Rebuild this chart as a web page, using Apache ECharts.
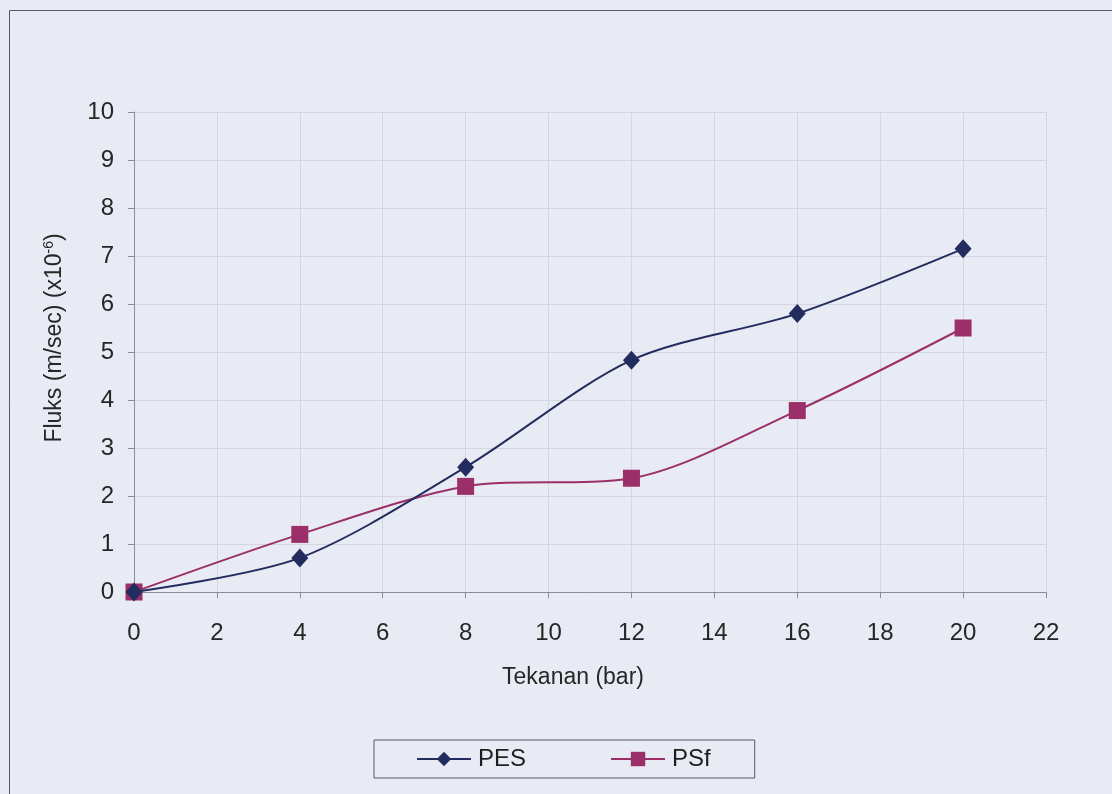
<!DOCTYPE html>
<html>
<head>
<meta charset="utf-8">
<script src="https://cdn.jsdelivr.net/npm/echarts@6/dist/echarts.min.js"></script>
<style>
  html, body { margin: 0; padding: 0; background: #e8ebf3; }
  #chart { width: 1112px; height: 794px; }
</style>
</head>
<body>
<div id="chart"></div>
<script>
// Pressure (bar) on the x axis
const tekanan = [0, 4, 8, 12, 16, 20];
// Flux values (x10^-6 m/sec) for each membrane
const fluksPES = [0, 0.71, 2.6, 4.83, 5.8, 7.15];
const fluksPSf = [0, 1.2, 2.2, 2.37, 3.78, 5.5];
const seriesNames = ['PES', 'PSf'];

const font = 'Liberation Sans, Arial, sans-serif';
const textColor = '#262626';
const axisColor = '#8a8d94';
const gridColor = '#d3d7df';
const pair = (xs, ys) => xs.map((x, i) => [x, ys[i]]);

const chart = echarts.init(document.getElementById('chart'));
chart.setOption({
  backgroundColor: '#e8ebf3',
  animation: false,
  textStyle: { fontFamily: font },
  graphic: [{
    type: 'rect',
    shape: { x: 9.5, y: 10.5, width: 1200, height: 900 },
    style: { fill: 'none', stroke: '#555a66', lineWidth: 1 },
    silent: true
  }],
  grid: { left: 134, right: 66, top: 112, bottom: 202 },
  xAxis: {
    type: 'value',
    min: 0, max: 22, interval: 2,
    name: 'Tekanan (bar)',
    nameLocation: 'middle',
    nameGap: 74,
    nameTextStyle: { fontSize: 23, color: textColor, fontFamily: font, padding: [0, 34, 0, 0] },
    axisLine: { onZero: false, lineStyle: { color: axisColor, width: 1 } },
    axisTick: { show: true, length: 6, lineStyle: { color: axisColor } },
    axisLabel: { fontSize: 24, color: textColor, margin: 29, fontFamily: font },
    splitLine: { show: true, lineStyle: { color: gridColor, width: 1 } }
  },
  yAxis: {
    type: 'value',
    min: 0, max: 10, interval: 1,
    name: '{n|Fluks (m/sec) (x10}{s|-6}{n|)}',
    nameLocation: 'middle',
    nameGap: 66,
    nameRotate: 90,
    nameTextStyle: {
      fontFamily: font,
      padding: [0, 0, 0, 28],
      rich: {
        n: { fontSize: 23, color: textColor, fontFamily: font },
        s: { fontSize: 14, color: textColor, fontFamily: font, padding: [0, 0, 12, 0] }
      }
    },
    axisLine: { show: true, lineStyle: { color: axisColor, width: 1 } },
    axisTick: { show: true, length: 6, lineStyle: { color: axisColor } },
    axisLabel: { fontSize: 24, color: textColor, margin: 20, fontFamily: font },
    splitLine: { show: true, lineStyle: { color: gridColor, width: 1 } }
  },
  legend: {
    left: 374, top: 740,
    padding: [7, 44, 7, 42],
    itemGap: 84,
    itemWidth: 54, itemHeight: 18,
    borderColor: '#55585f', borderWidth: 1,
    textStyle: { fontSize: 24, color: '#1e1e1e', fontFamily: font, padding: [0, 0, 0, 2] },
    data: seriesNames
  },
  series: [
    {
      name: seriesNames[0],
      type: 'line',
      data: pair(tekanan, fluksPES),
      smooth: 0.3,
      symbol: 'diamond',
      symbolSize: [17, 19],
      color: '#232c5e',
      lineStyle: { color: '#232c5e', width: 2 },
      itemStyle: { color: '#232c5e' },
      z: 3
    },
    {
      name: seriesNames[1],
      type: 'line',
      data: pair(tekanan, fluksPSf),
      smooth: 0.3,
      symbol: 'rect',
      symbolSize: 17,
      color: '#9a2f6a',
      lineStyle: { color: '#9a2f6a', width: 2 },
      itemStyle: { color: '#9a2f6a' },
      z: 2
    }
  ]
});
</script>
</body>
</html>
